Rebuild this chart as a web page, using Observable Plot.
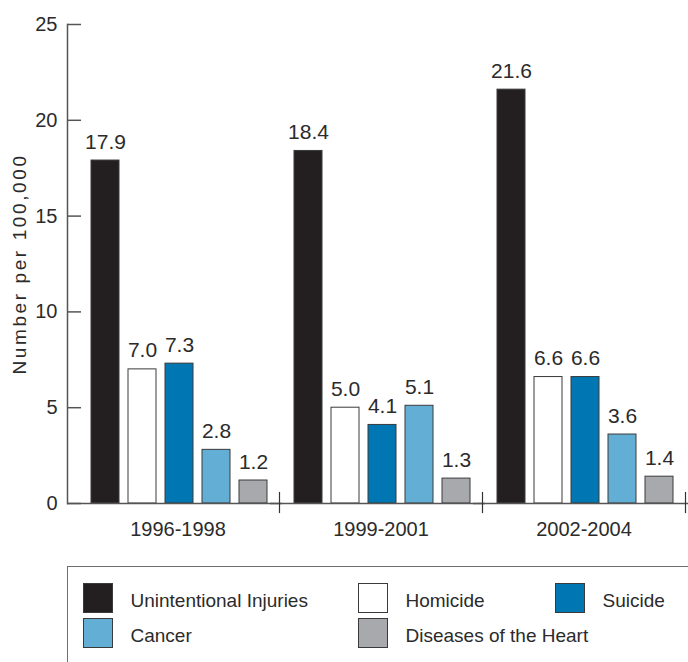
<!DOCTYPE html>
<html>
<head>
<meta charset="utf-8">
<script src="https://cdn.jsdelivr.net/npm/d3@7"></script>
<script src="https://cdn.jsdelivr.net/npm/@observablehq/plot@0.6"></script>
<style>
  html, body { margin: 0; padding: 0; background: #fff; width: 688px; height: 662px; overflow: hidden; }
  #chart { position: absolute; left: 0; top: 0; }
  #legend {
    position: absolute; left: 67px; top: 566px; width: 680px; height: 130px;
    border: 1.5px solid #6d6e71; box-sizing: border-box;
    padding: 15.5px 0 0 14.5px;
    display: grid; grid-template-columns: 275px 197px 140px; grid-auto-rows: 30px; row-gap: 5px;
    font-family: "Liberation Sans", Arial, sans-serif; font-size: 19px; color: #2b2b2b;
  }
  .item { display: flex; align-items: center; white-space: nowrap; }
  .sw { width: 28px; height: 28px; border: 1px solid #3a3a3a; margin-right: 18px; flex: none; }
  .lbl { position: relative; top: 3px; }
  g[aria-label="y-axis label"] text { letter-spacing: 2.6px; }
</style>
</head>
<body>
<div id="chart"></div>
<div id="legend"></div>
<script>
const periods = ["1996-1998", "1999-2001", "2002-2004"];
const causes = ["Unintentional Injuries", "Homicide", "Suicide", "Cancer", "Diseases of the Heart"];
const causeColors = ["#231f20", "#ffffff", "#0077b3", "#63aed5", "#a7a9ac"];
const unintentionalInjuries = [17.9, 18.4, 21.6];
const homicide = [7.0, 5.0, 6.6];
const suicide = [7.3, 4.1, 6.6];
const cancer = [2.8, 5.1, 3.6];
const diseasesOfTheHeart = [1.2, 1.3, 1.4];
const yTicks = [0, 5, 10, 15, 20, 25];
const yLabel = "Number per 100,000";

const series = [unintentionalInjuries, homicide, suicide, cancer, diseasesOfTheHeart];
const rows = periods.flatMap((p, i) => causes.map((c, j) => ({period: p, cause: c, value: series[j][i]})));

const chart = Plot.plot({
  width: 688,
  height: 550,
  marginTop: 24,
  marginBottom: 47,
  marginLeft: 76,
  marginRight: 3,
  style: {fontFamily: '"Liberation Sans", Arial, sans-serif', fontSize: "20px", color: "#2b2b2b", background: "white", overflow: "visible"},
  facet: {data: rows, x: "period"},
  fx: {domain: periods, padding: 0, label: null, tickSize: 0, tickPadding: 18, fontSize: 20.5},
  x: {domain: causes, paddingInner: 0.253, paddingOuter: 0.333, align: 0.56, axis: null},
  y: {domain: [0, 25]},
  color: {domain: causes, range: causeColors},
  marks: [
    Plot.barY(rows, {x: "cause", y: "value", fill: "cause", stroke: "#3a3a3a", strokeWidth: 1}),
    Plot.text(rows, {x: "cause", y: "value", text: d => d.value.toFixed(1), lineAnchor: "bottom", dy: -12, fontSize: 21}),
    Plot.ruleY([0], {insetLeft: -9, insetRight: -3, stroke: "#555", strokeWidth: 1.5}),
    Plot.frame({anchor: "right", insetTop: 468, insetBottom: -9, stroke: "#333", strokeWidth: 1.2}),
    Plot.frame({anchor: "left", dx: -9, facetAnchor: "left", stroke: "#555", strokeWidth: 1.5}),
    Plot.axisY({ticks: yTicks, tickSize: 0, tickPadding: 10, dx: -9, label: null, fontSize: 20}),
    Plot.axisY({ticks: yTicks, tickSize: -14, dx: -9, fill: "none", label: null, stroke: "#555", strokeWidth: 1.5}),
    Plot.axisY({ticks: [], tickSize: 0, label: yLabel, labelAnchor: "center", labelArrow: "none", labelOffset: 64, fontSize: 19})
  ]
});
document.getElementById("chart").append(chart);

const legend = document.getElementById("legend");
causes.forEach((c, i) => {
  const item = document.createElement("div");
  item.className = "item";
  const sw = document.createElement("div");
  sw.className = "sw";
  sw.style.background = causeColors[i];
  const lbl = document.createElement("span");
  lbl.className = "lbl";
  lbl.textContent = c;
  item.append(sw, lbl);
  legend.append(item);
});
</script>
</body>
</html>
